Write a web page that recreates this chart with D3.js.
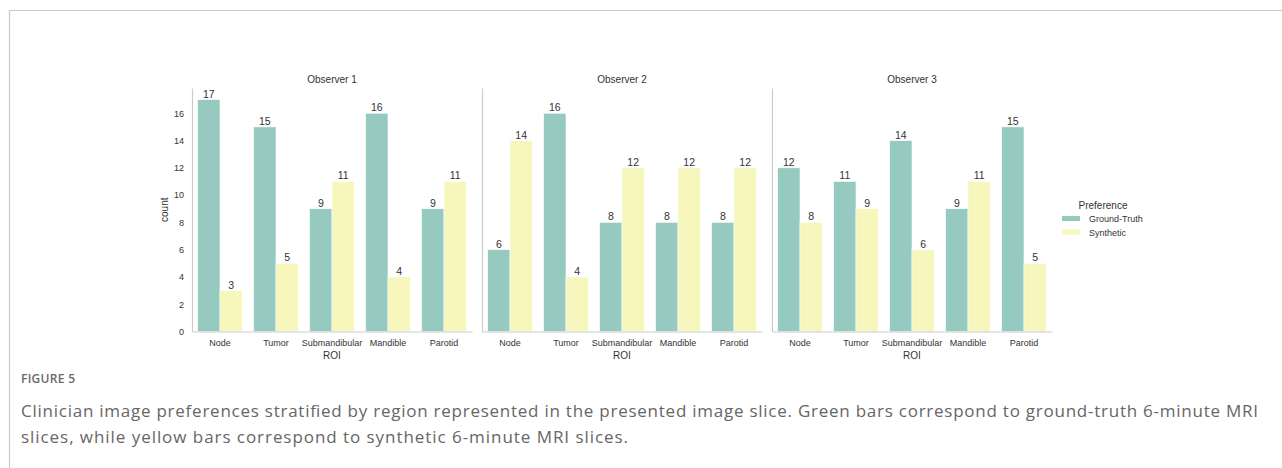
<!DOCTYPE html>
<html><head><meta charset="utf-8">
<script src="https://cdn.jsdelivr.net/npm/d3@7/dist/d3.min.js"></script>
<style>
html,body{margin:0;padding:0;background:#fff;}
svg{display:block;}
</style></head>
<body>
<script>
const categories = ["Node","Tumor","Submandibular","Mandible","Parotid"];
const observers = ["Observer 1","Observer 2","Observer 3"];
const series = ["Ground-Truth","Synthetic"];
const groundTruth = [
  [17,15,9,16,9],
  [6,16,8,8,8],
  [12,11,14,9,15]
];
const synthetic = [
  [3,5,11,4,11],
  [14,4,12,12,12],
  [8,9,6,11,5]
];
const yTicks = [0,2,4,6,8,10,12,14,16];
const captionTitle = "FIGURE 5";
const captionLines = [
  "Clinician image preferences stratified by region represented in the presented image slice. Green bars correspond to ground-truth 6-minute MRI",
  "slices, while yellow bars correspond to synthetic 6-minute MRI slices."
];

const W = 1282, H = 468;
const colors = {"Ground-Truth":"#96cac1","Synthetic":"#f6f6bd"};
const svg = d3.select("body").append("svg").attr("width",W).attr("height",H);
svg.append("rect").attr("width",W).attr("height",H).attr("fill","#fff");

// frame
svg.append("path").attr("d",`M9.5,${H} L9.5,10.5 L${W},10.5`)
  .attr("fill","none").attr("stroke","#c8c8c8").attr("stroke-width",1.2);

const font = "'Liberation Sans', Arial, sans-serif";
const textCol = "#333";
const panelW = 280, panelStep = 290, panelX0 = 192;
const y = d3.scaleLinear().domain([0,17.85]).range([331.5,88]);

observers.forEach((obs,i)=>{
  const gx = panelX0 + i*panelStep;
  const g = svg.append("g").attr("transform",`translate(${gx},0)`);
  const cat = d3.scaleBand().domain(categories).range([0,panelW]);
  const inner = d3.scaleBand().domain(series).range([cat.bandwidth()*0.1, cat.bandwidth()*0.9]);
  const data = [];
  categories.forEach((c,k)=>{
    data.push({c, s:"Ground-Truth", v:groundTruth[i][k]});
    data.push({c, s:"Synthetic", v:synthetic[i][k]});
  });
  g.selectAll("rect.bar").data(data).join("rect")
    .attr("class","bar")
    .attr("x",d=>cat(d.c)+inner(d.s))
    .attr("width",inner.bandwidth())
    .attr("y",d=>y(d.v))
    .attr("height",d=>y(0)-y(d.v))
    .attr("fill",d=>colors[d.s])
    .attr("stroke","#fff").attr("stroke-width",0.6);
  g.selectAll("text.val").data(data).join("text")
    .attr("class","val")
    .attr("x",d=>cat(d.c)+inner(d.s)+inner.bandwidth()/2)
    .attr("y",d=>y(d.v)-2)
    .attr("text-anchor","middle")
    .attr("font-family",font).attr("font-size",10.5).attr("fill",textCol)
    .text(d=>d.v);
  const xAxis = d3.axisBottom(cat).tickSize(0).tickPadding(8);
  const xa = g.append("g").attr("transform",`translate(0,${y(0)})`).call(xAxis);
  xa.select(".domain").attr("stroke","#cccccc").attr("stroke-width",1.2);
  xa.selectAll("text").attr("font-family",font).attr("font-size",9).attr("fill",textCol);
  const yAxis = d3.axisLeft(y).tickValues(yTicks).tickSize(0).tickPadding(8);
  const ya = g.append("g").call(yAxis);
  ya.select(".domain").attr("stroke","#cccccc").attr("stroke-width",1.2);
  ya.selectAll("text").attr("font-family",font).attr("font-size",9).attr("fill",textCol);
  if(i>0) ya.selectAll(".tick").remove();
  g.append("text").attr("x",panelW/2).attr("y",83).attr("text-anchor","middle")
    .attr("font-family",font).attr("font-size",10).attr("fill",textCol).text(obs);
  g.append("text").attr("x",panelW/2).attr("y",359).attr("text-anchor","middle")
    .attr("font-family",font).attr("font-size",10).attr("fill",textCol).text("ROI");
  if(i===0){
    g.append("text").attr("transform",`translate(-24,${(y(0)+y(17.85))/2}) rotate(-90)`)
      .attr("text-anchor","middle")
      .attr("font-family",font).attr("font-size",10).attr("fill",textCol).text("count");
  }
});

// legend
const lg = svg.append("g").attr("transform","translate(1062,0)");
lg.append("text").attr("x",41).attr("y",208.5).attr("text-anchor","middle")
  .attr("font-family",font).attr("font-size",10).attr("fill",textCol).text("Preference");
series.forEach((s,k)=>{
  lg.append("rect").attr("x",0).attr("y",216+k*13.5).attr("width",18).attr("height",5)
    .attr("fill",colors[s]);
  lg.append("text").attr("x",27).attr("y",222+k*13.5)
    .attr("font-family",font).attr("font-size",9).attr("fill",textCol).text(s);
});

// caption
const capFont = "'Open Sans', 'Noto Sans', sans-serif";
svg.append("text").attr("x",21).attr("y",383).attr("font-family",capFont)
  .attr("font-size",12).attr("font-weight",600).attr("fill","#6a6a6a")
  .attr("textLength",54).attr("lengthAdjust","spacing").text(captionTitle);
const capWidths = [1237, 607];
captionLines.forEach((t,k)=>{
  svg.append("text").attr("x",21).attr("y",417+k*26).attr("font-family",capFont)
    .attr("font-size",17).attr("fill","#666")
    .attr("textLength",capWidths[k]).attr("lengthAdjust","spacing").text(t);
});
</script>
</body></html>
